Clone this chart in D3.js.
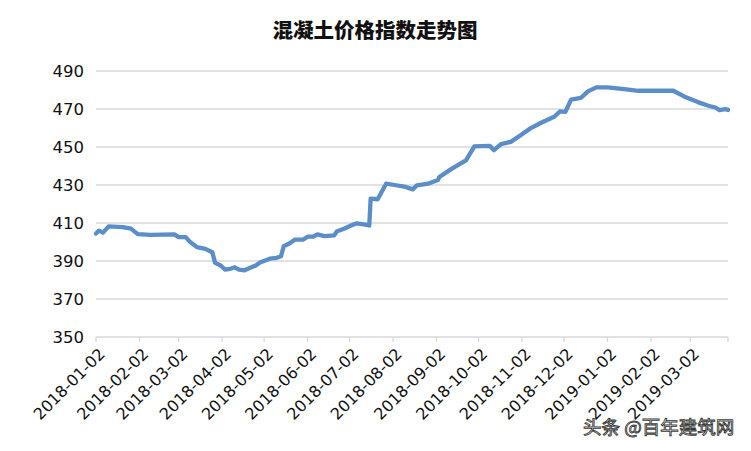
<!DOCTYPE html>
<html>
<head>
<meta charset="utf-8">
<script src="https://cdn.jsdelivr.net/npm/d3@7"></script>
<style>
  body { margin: 0; background: #fff; }
  svg { display: block; }
</style>
</head>
<body>
<div id="chart"></div>
<script>
// 混凝土价格指数
var dates = ["2018-01-02","2018-01-04","2018-01-07","2018-01-11","2018-01-21","2018-01-27","2018-01-30","2018-02-01","2018-02-10","2018-02-27",
    "2018-03-02","2018-03-07","2018-03-10","2018-03-15","2018-03-21","2018-03-26","2018-03-28","2018-04-01","2018-04-04","2018-04-08",
    "2018-04-11","2018-04-14","2018-04-18","2018-04-22","2018-04-26","2018-04-29","2018-05-06","2018-05-11","2018-05-14","2018-05-16",
    "2018-05-20","2018-05-24","2018-05-30","2018-06-02","2018-06-06","2018-06-09","2018-06-14","2018-06-21","2018-06-23","2018-06-28",
    "2018-07-03","2018-07-07","2018-07-12","2018-07-16","2018-07-17","2018-07-22","2018-07-28","2018-08-03","2018-08-10","2018-08-16",
    "2018-08-19","2018-08-27","2018-09-03","2018-09-04","2018-09-13","2018-09-23","2018-09-29","2018-10-10","2018-10-13","2018-10-18",
    "2018-10-25","2018-11-01","2018-11-08","2018-11-16","2018-11-25","2018-11-29","2018-12-03","2018-12-07","2018-12-14","2018-12-19",
    "2018-12-25","2019-01-02","2019-01-14","2019-01-24","2019-02-18","2019-02-26","2019-03-08","2019-03-15","2019-03-20","2019-03-23",
    "2019-03-27","2019-03-29"];

var values = [404.4,406,404.9,408.2,407.8,407,405.2,404.1,403.8,404,
    402.6,402.6,400.1,397.3,396.4,394.6,389,387.6,385.5,385.9,
    386.7,385.5,385.1,386.4,387.6,389.2,391.2,391.7,392.5,397.8,
    399.2,401.3,401.3,402.8,402.8,404,403.1,403.5,405.7,407,
    408.7,409.8,409.3,408.7,422.8,422.5,430.7,430,429.2,427.7,
    429.8,430.7,432.6,434.2,438.6,443,450.3,450.6,448.3,451.5,
    452.7,456.2,459.8,462.9,465.9,468.7,468.5,474.9,475.8,479.3,
    481.4,481.4,480.5,479.6,479.6,476.5,473.5,471.7,470.8,469.4,
    469.9,469.5];

var xTickLabels = ["2018-01-02","2018-02-02","2018-03-02","2018-04-02","2018-05-02","2018-06-02","2018-07-02",
    "2018-08-02","2018-09-02","2018-10-02","2018-11-02","2018-12-02","2019-01-02","2019-02-02","2019-03-02"];
var yTicks = [350, 370, 390, 410, 430, 450, 470, 490];

var title = "混凝土价格指数走势图";
var watermark = "头条 @百年建筑网";

var width = 751, height = 451;
var parse = d3.timeParse("%Y-%m-%d");

var data = dates.map(function(d, i) {
    return { date: parse(d), value: values[i] };
});

var svg = d3.select("#chart").append("svg")
    .attr("width", width)
    .attr("height", height);

var x = d3.scaleTime()
    .domain([parse("2018-01-02"), parse("2019-03-29")])
    .range([96, 728]);

var y = d3.scaleLinear()
    .domain([350, 490])
    .range([337, 71]);

// title
svg.append("text")
    .attr("x", 375)
    .attr("y", 38)
    .attr("text-anchor", "middle")
    .style("font-family", "'Noto Sans CJK SC', sans-serif")
    .style("font-weight", "900")
    .style("font-size", "20.5px")
    .style("fill", "#111")
    .text(title);

// gridlines
svg.append("g")
    .selectAll("line")
    .data(yTicks)
    .enter().append("line")
    .attr("x1", x.range()[0])
    .attr("x2", x.range()[1])
    .attr("y1", function(d) { return y(d); })
    .attr("y2", function(d) { return y(d); })
    .style("stroke", "#d9d9d9")
    .style("stroke-width", 1.3);

// y labels
svg.append("g")
    .selectAll("text")
    .data(yTicks)
    .enter().append("text")
    .attr("x", 84)
    .attr("y", function(d) { return y(d); })
    .attr("dy", "0.36em")
    .attr("text-anchor", "end")
    .style("font-family", "'DejaVu Sans', sans-serif")
    .style("font-size", "16.5px")
    .style("fill", "#111")
    .text(function(d) { return d; });

// x ticks
var tickDates = xTickLabels.map(parse).concat([x.domain()[1]]);
svg.append("g")
    .selectAll("line")
    .data(tickDates)
    .enter().append("line")
    .attr("x1", function(d) { return x(d); })
    .attr("x2", function(d) { return x(d); })
    .attr("y1", y(350))
    .attr("y2", y(350) + 5)
    .style("stroke", "#d9d9d9")
    .style("stroke-width", 1.3);

// x labels, rotated
svg.append("g")
    .selectAll("text")
    .data(xTickLabels)
    .enter().append("text")
    .attr("transform", function(d) {
        return "translate(" + (x(parse(d)) + 6) + "," + (y(350) + 14) + ") rotate(-45)";
    })
    .attr("text-anchor", "end")
    .attr("dy", "0.35em")
    .style("font-family", "'DejaVu Sans', sans-serif")
    .style("font-size", "16px")
    .style("fill", "#111")
    .text(function(d) { return d; });

// the line
var line = d3.line()
    .x(function(d) { return x(d.date); })
    .y(function(d) { return y(d.value); });

svg.append("path")
    .datum(data)
    .attr("d", line)
    .style("fill", "none")
    .style("stroke", "#5b8ec8")
    .style("stroke-width", 4.3)
    .style("stroke-linejoin", "round")
    .style("stroke-linecap", "round");

// watermark
svg.append("text")
    .attr("x", 583)
    .attr("y", 434)
    .style("font-family", "'Noto Sans CJK SC', sans-serif")
    .style("font-size", "18.5px")
    .style("fill", "#fff")
    .style("stroke", "#3a3a3a")
    .style("stroke-width", 0.9)
    .text(watermark);
</script>
</body>
</html>
